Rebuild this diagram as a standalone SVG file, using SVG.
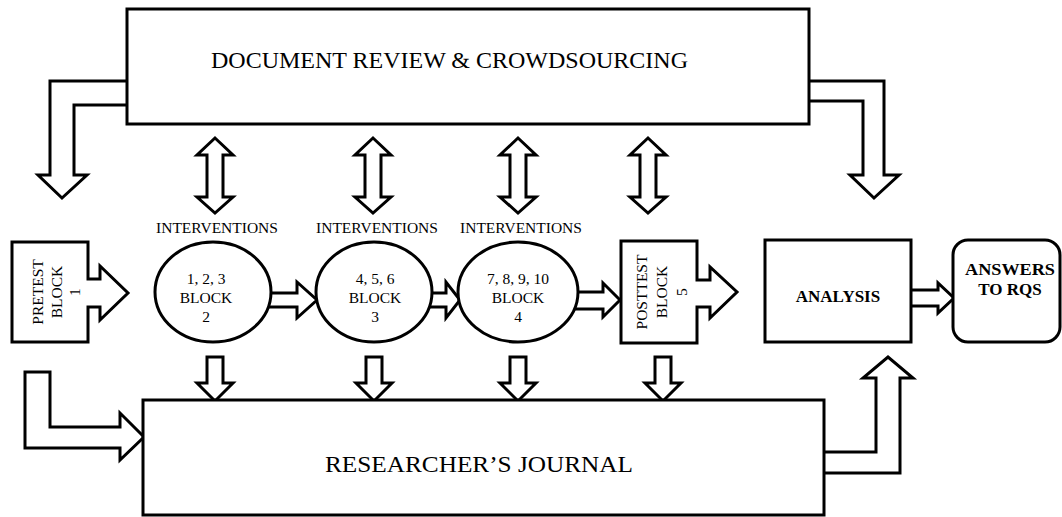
<svg xmlns="http://www.w3.org/2000/svg" width="1062" height="517" viewBox="0 0 1062 517">
<style>
.s{fill:#fff;stroke:#000;stroke-width:3;stroke-linejoin:miter}
.a{fill:#fff;stroke:#000;stroke-width:3;stroke-linejoin:miter}
text{font-family:"Liberation Serif","Times New Roman",serif;fill:#000}
.big{font-size:24px}
.lbl{font-size:15.5px;text-anchor:middle}
.bl{font-size:15.5px;text-anchor:middle}
.b{font-size:17px;font-weight:bold;text-anchor:middle}
</style>
<rect width="1062" height="517" fill="#fff"/>
<g id="connectors">
<polygon class="a" points="135,81 50,81 50,175 38,175 62,198 87,175 74,175 74,105 135,105"/>
<polygon class="a" points="800,81 884,81 884,175 899,175 874,198 850,175 863,175 863,101 800,101"/>
<polygon class="a" points="215,138 233,155 223,155 223,197 233,197 215,213 197,197 207,197 207,155 197,155"/>
<polygon class="a" points="373,138 391,155 381,155 381,197 391,197 373,213 355,197 365,197 365,155 355,155"/>
<polygon class="a" points="518,138 536,155 526,155 526,197 536,197 518,213 500,197 510,197 510,155 500,155"/>
<polygon class="a" points="648,138 666,155 656,155 656,197 666,197 648,213 630,197 640,197 640,155 630,155"/>
<polygon class="a" points="207,357 223,357 223,383 233,383 215,401 197,383 207,383"/>
<polygon class="a" points="366,357 382,357 382,383 392,383 374,401 356,383 366,383"/>
<polygon class="a" points="510,357 526,357 526,383 536,383 518,401 500,383 510,383"/>
<polygon class="a" points="655,357 671,357 671,383 681,383 663,401 645,383 655,383"/>
<polygon class="a" points="25,372 50,372 50,427 120,427 120,413 144,437 120,460 120,448 25,448"/>
<polygon class="a" points="815,452 876,452 876,378 863,378 888,357 913,378 900,378 900,473 815,473"/>
<polygon class="a" points="262,293 297,293 297,282 317,300 297,318 297,307 262,307"/>
<polygon class="a" points="422,293 446,293 446,282 460,300 446,318 446,307 422,307"/>
<polygon class="a" points="570,292 603,292 603,283 620,300 603,317 603,309 570,309"/>
<polygon class="a" points="905,290 938,290 938,283 954,298 938,313 938,306 905,306"/>
</g>
<g id="document-review">
<rect class="s" x="127" y="9" width="682" height="115"/>
<text class="big" x="211" y="68" textLength="477" lengthAdjust="spacingAndGlyphs">DOCUMENT REVIEW &amp; CROWDSOURCING</text>
</g>
<g id="researchers-journal">
<rect class="s" x="143" y="400" width="681" height="115"/>
<text class="big" x="325" y="472" font-size="25" textLength="308" lengthAdjust="spacingAndGlyphs">RESEARCHER’S JOURNAL</text>
</g>
<g id="interventions-labels">
<text class="lbl" x="217" y="233">INTERVENTIONS</text>
<text class="lbl" x="377" y="233">INTERVENTIONS</text>
<text class="lbl" x="521" y="233">INTERVENTIONS</text>
</g>
<g id="pretest">
<polygon class="s" points="12,242 88,242 88,279 100,279 100,266 128,293 100,320 100,307 88,307 88,342 12,342"/>
<text class="bl" transform="translate(43,292) rotate(-90)"><tspan x="0" y="0">PRETEST</tspan><tspan x="0" y="19">BLOCK</tspan><tspan x="0" y="37">1</tspan></text>
</g>
<g id="block2">
<ellipse class="s" cx="213" cy="292" rx="58" ry="50"/>
<text class="bl"><tspan x="206" y="284">1, 2, 3</tspan><tspan x="206" y="303">BLOCK</tspan><tspan x="206" y="322">2</tspan></text>
</g>
<g id="block3">
<ellipse class="s" cx="374" cy="292" rx="58" ry="50"/>
<text class="bl"><tspan x="375" y="284">4, 5, 6</tspan><tspan x="375" y="303">BLOCK</tspan><tspan x="375" y="322">3</tspan></text>
</g>
<g id="block4">
<ellipse class="s" cx="518" cy="292" rx="60" ry="50"/>
<text class="bl"><tspan x="518" y="284">7, 8, 9, 10</tspan><tspan x="518" y="303">BLOCK</tspan><tspan x="518" y="322">4</tspan></text>
</g>
<g id="posttest">
<polygon class="s" points="621,241 697,241 697,280 710,280 710,267 737,292 710,318 710,307 697,307 697,343 621,343"/>
<text class="bl" transform="translate(647,292) rotate(-90)"><tspan x="0" y="0">POSTTEST</tspan><tspan x="0" y="20">BLOCK</tspan><tspan x="0" y="40">5</tspan></text>
</g>
<g id="analysis">
<rect class="s" x="765" y="240" width="146" height="102"/>
<text class="b" x="838" y="302">ANALYSIS</text>
</g>
<g id="answers">
<rect class="s" x="953" y="240" width="107" height="102" rx="15" ry="15"/>
<text class="b" x="1010" y="275" textLength="90" lengthAdjust="spacingAndGlyphs">ANSWERS</text>
<text class="b" x="1010" y="295">TO RQS</text>
</g>
</svg>
